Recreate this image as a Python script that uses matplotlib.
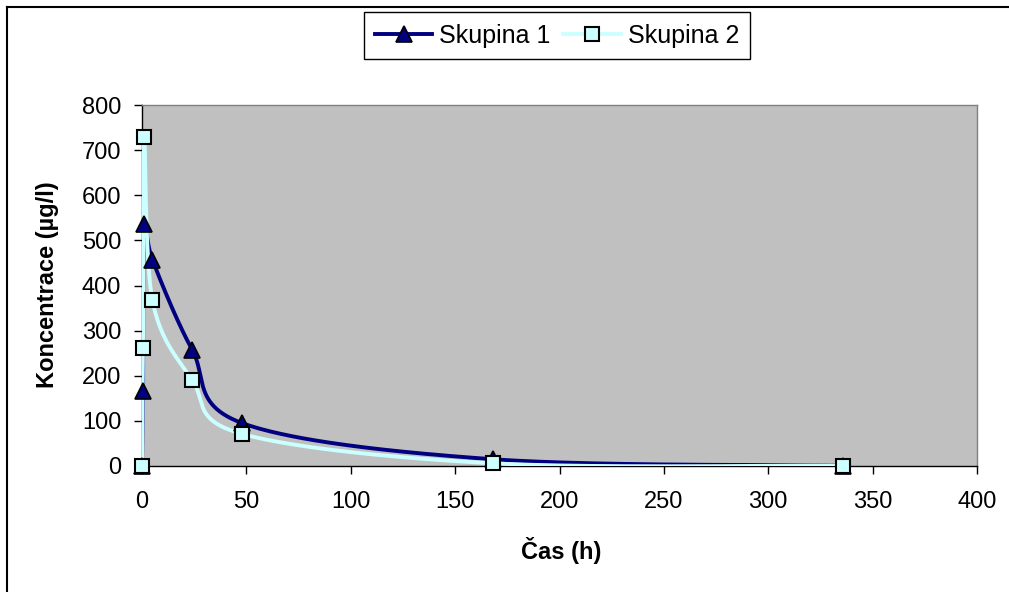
import numpy as np
import matplotlib
matplotlib.use("Agg")
import matplotlib.pyplot as plt
from matplotlib.lines import Line2D

plt.rcParams['font.family'] = ['Liberation Sans', 'DejaVu Sans']

# Sampling times (h) and concentrations (µg/l)
cas = [0, 0.5, 1, 5, 24, 48, 168, 336]
skupina1 = [0, 166, 536, 457, 258, 95, 15, 1]
skupina2 = [0, 261, 729, 367, 191, 71, 6, 1]

x_ticks = [0, 50, 100, 150, 200, 250, 300, 350, 400]
y_ticks = [0, 100, 200, 300, 400, 500, 600, 700, 800]

W, H, DPI = 1009, 592, 100
FS = 17

fig = plt.figure(figsize=(W / DPI, H / DPI), dpi=DPI)
fig.patch.set_facecolor('white')

ax = fig.add_axes([142 / W, 1 - 466 / H, (977 - 142) / W, (466 - 105) / H])
ax.set_facecolor('#C0C0C0')
ax.set_xlim(0, 400)
ax.set_ylim(0, 800)
ax.set_xticks(x_ticks)
ax.set_yticks(y_ticks)
ax.tick_params(axis='both', direction='out', length=6, width=1, color='black',
               labelsize=FS)
ax.tick_params(axis='y', pad=9)
ax.tick_params(axis='x', pad=12)
for side in ('left', 'bottom'):
    ax.spines[side].set_color('black')
    ax.spines[side].set_linewidth(1)
for side in ('top', 'right'):
    ax.spines[side].set_color('#808080')
    ax.spines[side].set_linewidth(1)


def smooth(xs, ys, n=80):
    """Smoothed line: cubic Bezier through the points with Catmull-Rom
    tangents, computed in display space."""
    pts = ax.transData.transform(np.column_stack([xs, ys]))
    m = len(pts)
    out = [pts[0]]
    t = np.linspace(0, 1, n)[1:, None]
    for i in range(m - 1):
        p0 = pts[i - 1] if i > 0 else pts[i]
        p1 = pts[i]
        p2 = pts[i + 1]
        p3 = pts[i + 2] if i + 2 < m else pts[i + 1]
        c1 = p1 + (p2 - p0) / 6.0
        c2 = p2 - (p3 - p1) / 6.0
        seg = ((1 - t) ** 3) * p1 + 3 * ((1 - t) ** 2) * t * c1 \
            + 3 * (1 - t) * (t ** 2) * c2 + (t ** 3) * p2
        out.extend(seg)
    data = ax.transData.inverted().transform(np.array(out))
    return data[:, 0], data[:, 1]


navy = '#000080'
cyan = '#CCFFFF'
lw = 2.8

sx1, sy1 = smooth(cas, skupina1)
sx2, sy2 = smooth(cas, skupina2)
ax.plot(sx1, sy1, color=navy, lw=lw, zorder=2, solid_capstyle='butt')
ax.plot(sx2, sy2, color=cyan, lw=lw, zorder=3, solid_capstyle='butt')
ax.plot(cas, skupina1, linestyle='none', marker='^', ms=12, mfc=navy,
        mec='black', mew=1.2, zorder=4, clip_on=False)
ax.plot(cas, skupina2, linestyle='none', marker='s', ms=10.5, mfc=cyan,
        mec='black', mew=1.5, zorder=5, clip_on=False)

h1 = Line2D([], [], color=navy, lw=lw, marker='^', ms=12, mfc=navy,
            mec='black', mew=1.2)
h2 = Line2D([], [], color=cyan, lw=lw, marker='s', ms=10.5, mfc=cyan,
            mec='black', mew=1.5)
leg = fig.legend([h1, h2], ['Skupina 1', 'Skupina 2'], ncol=2,
                 loc='center', bbox_to_anchor=(557 / W, 1 - 35.5 / H),
                 bbox_transform=fig.transFigure, frameon=True, fancybox=False,
                 shadow=False, framealpha=1, edgecolor='black', fontsize=18,
                 handlelength=2.3, handletextpad=0.28, columnspacing=0.5,
                 borderpad=0.45, borderaxespad=0)
leg.get_frame().set_linewidth(1)

fig.text(561 / W, 1 - 550 / H, 'Čas (h)', ha='center', va='center',
         fontsize=FS, fontweight='bold')
fig.text(48 / W, 1 - 285 / H, 'Koncentrace (µg/l)', ha='center', va='center',
         rotation=90, fontsize=FS, fontweight='bold')

# Chart-area border (top and left edges)
bx, by = 7 / W, 1 - 7 / H
fig.add_artist(Line2D([bx, bx], [0, by], transform=fig.transFigure,
                      color='black', lw=1.5))
fig.add_artist(Line2D([bx, 1], [by, by], transform=fig.transFigure,
                      color='black', lw=1.5))

fig.savefig('out.png', dpi=DPI)
